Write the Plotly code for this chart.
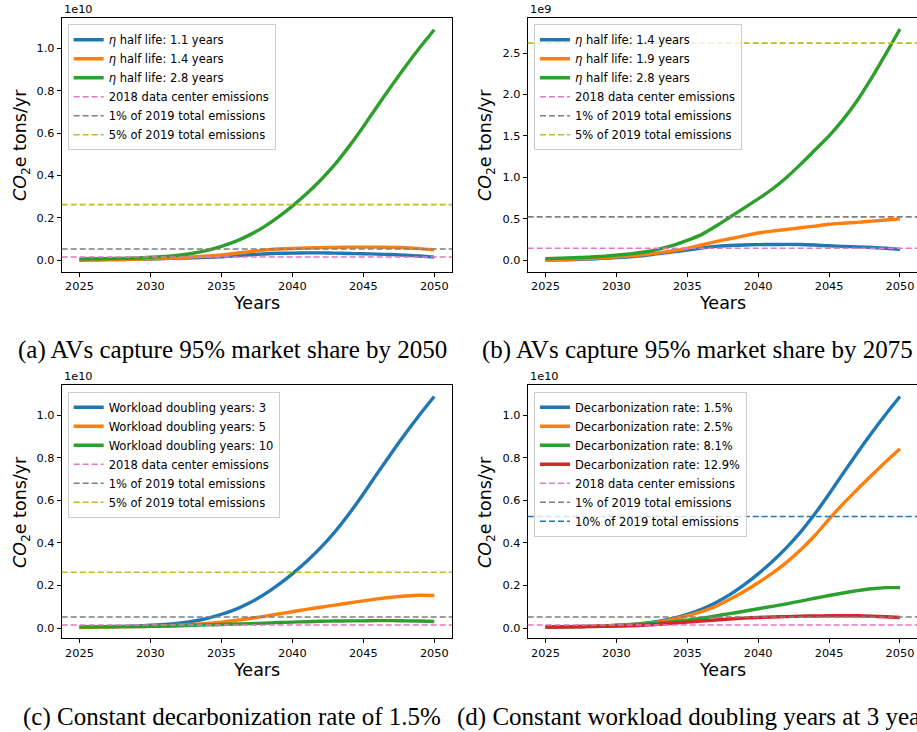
import plotly.graph_objects as go

# ---------------- data ----------------
years = list(range(2025, 2051))

# baseline scenario: 3-year workload doubling, 1.5% decarbonization, 95% AV share by 2050 (x1e10 tons)
baseline = [0.005, 0.006, 0.007, 0.008, 0.010, 0.013, 0.017, 0.023, 0.032, 0.046,
            0.065, 0.088, 0.119, 0.157, 0.203, 0.255, 0.313, 0.378, 0.452, 0.537,
            0.630, 0.728, 0.824, 0.917, 1.005, 1.088]

# (a) eta half life (x1e10)
a_half_11 = [0.000, 0.001, 0.002, 0.003, 0.004, 0.005, 0.007, 0.009, 0.011, 0.013,
             0.016, 0.020, 0.025, 0.029, 0.032, 0.033, 0.034, 0.034, 0.033, 0.031,
             0.030, 0.028, 0.026, 0.023, 0.019, 0.014]
a_half_14 = [0.000, 0.001, 0.002, 0.003, 0.004, 0.006, 0.008, 0.011, 0.015, 0.019,
             0.024, 0.032, 0.040, 0.047, 0.052, 0.055, 0.057, 0.059, 0.060, 0.061,
             0.061, 0.061, 0.060, 0.058, 0.054, 0.048]
a_half_28 = baseline

# (b) eta half life, 95% by 2075 (x1e9)
b_half_14 = [0.000, 0.005, 0.010, 0.016, 0.023, 0.032, 0.043, 0.056, 0.082, 0.102,
             0.124, 0.148, 0.168, 0.179, 0.185, 0.189, 0.191, 0.192, 0.191, 0.184,
             0.175, 0.168, 0.162, 0.155, 0.145, 0.132]
b_half_19 = [0.000, 0.007, 0.014, 0.022, 0.031, 0.041, 0.053, 0.068, 0.090, 0.115,
             0.145, 0.185, 0.225, 0.260, 0.295, 0.330, 0.352, 0.372, 0.393, 0.413,
             0.435, 0.447, 0.458, 0.472, 0.486, 0.500]
b_half_28 = [0.020, 0.025, 0.031, 0.038, 0.048, 0.062, 0.078, 0.100, 0.135, 0.180,
             0.240, 0.310, 0.410, 0.520, 0.630, 0.740, 0.860, 1.000, 1.160, 1.330,
             1.500, 1.700, 1.930, 2.200, 2.490, 2.790]

# (c) workload doubling years (x1e10)
c_double_3 = baseline
c_double_5 = [0.003, 0.004, 0.005, 0.006, 0.007, 0.008, 0.010, 0.013, 0.017, 0.022,
              0.028, 0.036, 0.045, 0.055, 0.066, 0.077, 0.088, 0.098, 0.108, 0.118,
              0.128, 0.137, 0.145, 0.151, 0.154, 0.153]
c_double_10 = [0.005, 0.005, 0.006, 0.007, 0.007, 0.008, 0.009, 0.011, 0.013, 0.015,
               0.017, 0.019, 0.021, 0.023, 0.026, 0.028, 0.030, 0.032, 0.033, 0.034,
               0.034, 0.035, 0.035, 0.034, 0.033, 0.031]

# (d) decarbonization rate (x1e10)
d_rate_15 = baseline
d_rate_25 = [0.005, 0.006, 0.007, 0.008, 0.010, 0.012, 0.016, 0.021, 0.029, 0.041,
             0.058, 0.077, 0.102, 0.135, 0.172, 0.213, 0.258, 0.309, 0.368, 0.435,
             0.512, 0.585, 0.652, 0.718, 0.782, 0.843]
d_rate_81 = [0.005, 0.006, 0.007, 0.008, 0.010, 0.012, 0.015, 0.019, 0.024, 0.030,
             0.037, 0.046, 0.057, 0.068, 0.079, 0.091, 0.102, 0.114, 0.127, 0.140,
             0.153, 0.165, 0.176, 0.185, 0.190, 0.190]
d_rate_129 = [0.005, 0.005, 0.006, 0.007, 0.008, 0.009, 0.011, 0.014, 0.018, 0.023,
              0.028, 0.033, 0.038, 0.043, 0.047, 0.050, 0.052, 0.054, 0.056, 0.057,
              0.058, 0.058, 0.058, 0.056, 0.053, 0.050]

# reference levels (tons CO2e / yr)
dc_2018 = 1.46e8
pct1_2019 = 5.24e8
pct5_2019 = 2.62e9
pct10_2019 = 5.24e9

x_ticks = [2025, 2030, 2035, 2040, 2045, 2050]
y_ticks_e10 = [0.0, 0.2, 0.4, 0.6, 0.8, 1.0]
y_ticks_e9 = [0.0, 0.5, 1.0, 1.5, 2.0, 2.5]

captions = ["(a) AVs capture 95% market share by 2050",
            "(b) AVs capture 95% market share by 2075",
            "(c) Constant decarbonization rate of 1.5%",
            "(d) Constant workload doubling years at 3 years"]

# ---------------- style ----------------
C_BLUE, C_ORANGE, C_GREEN, C_RED = "#1f77b4", "#ff7f0e", "#2ca02c", "#d62728"
C_PINK, C_GRAY, C_OLIVE = "#e377c2", "#7f7f7f", "#bcbd22"
FONT = "DejaVu Sans"
LW = 3.4

panels = [
    dict(scale=1e10, exp="1e10", ticks=y_ticks_e10,
         series=[("<i>η</i> half life: 1.1 years", a_half_11, C_BLUE),
                 ("<i>η</i> half life: 1.4 years", a_half_14, C_ORANGE),
                 ("<i>η</i> half life: 2.8 years", a_half_28, C_GREEN)],
         refs=[("2018 data center emissions", dc_2018, C_PINK),
               ("1% of 2019 total emissions", pct1_2019, C_GRAY),
               ("5% of 2019 total emissions", pct5_2019, C_OLIVE)],
         xdom=[0.0673, 0.4929], ydom=[0.6288, 0.975],
         xr=[2023.75, 2051.25], yr=[-0.055e10, 1.142e10],
         leg=(0.0738, 0.9668)),
    dict(scale=1e9, exp="1e9", ticks=y_ticks_e9,
         series=[("<i>η</i> half life: 1.4 years", b_half_14, C_BLUE),
                 ("<i>η</i> half life: 1.9 years", b_half_19, C_ORANGE),
                 ("<i>η</i> half life: 2.8 years", b_half_28, C_GREEN)],
         refs=[("2018 data center emissions", dc_2018, C_PINK),
               ("1% of 2019 total emissions", pct1_2019, C_GRAY),
               ("5% of 2019 total emissions", pct5_2019, C_OLIVE)],
         xdom=[0.5755, 1.0], ydom=[0.6288, 0.975],
         xr=[2023.75, 2051.2], yr=[-0.1375e9, 2.919e9],
         leg=(0.5823, 0.9668)),
    dict(scale=1e10, exp="1e10", ticks=y_ticks_e10,
         series=[("Workload doubling years: 3", c_double_3, C_BLUE),
                 ("Workload doubling years: 5", c_double_5, C_ORANGE),
                 ("Workload doubling years: 10", c_double_10, C_GREEN)],
         refs=[("2018 data center emissions", dc_2018, C_PINK),
               ("1% of 2019 total emissions", pct1_2019, C_GRAY),
               ("5% of 2019 total emissions", pct5_2019, C_OLIVE)],
         xdom=[0.0673, 0.4929], ydom=[0.128, 0.474],
         xr=[2023.75, 2051.25], yr=[-0.048e10, 1.142e10],
         leg=(0.0738, 0.4649)),
    dict(scale=1e10, exp="1e10", ticks=y_ticks_e10,
         series=[("Decarbonization rate: 1.5%", d_rate_15, C_BLUE),
                 ("Decarbonization rate: 2.5%", d_rate_25, C_ORANGE),
                 ("Decarbonization rate: 8.1%", d_rate_81, C_GREEN),
                 ("Decarbonization rate: 12.9%", d_rate_129, C_RED)],
         refs=[("2018 data center emissions", dc_2018, C_PINK),
               ("1% of 2019 total emissions", pct1_2019, C_GRAY),
               ("10% of 2019 total emissions", pct10_2019, C_BLUE)],
         xdom=[0.5755, 1.0], ydom=[0.128, 0.474],
         xr=[2023.75, 2051.2], yr=[-0.048e10, 1.142e10],
         leg=(0.5823, 0.4649)),
]

caption_pos = [(0.2535, 0.5219), (0.7606, 0.5219), (0.2535, 0.0205), (0.7606, 0.0205)]
ytitle_pos = [(0.0229, 0.8019), (0.530, 0.8019), (0.0229, 0.3005), (0.530, 0.3005)]
xtitle_pos = [(0.280, 0.586), (0.788, 0.586), (0.280, 0.0847), (0.788, 0.0847)]

fig = go.Figure()
shapes = []
annotations = []
layout = dict()

for i, p in enumerate(panels):
    n = "" if i == 0 else str(i + 1)
    xa, ya = "x" + n, "y" + n
    leg = "legend" + n
    for name, vals, col in p["series"]:
        fig.add_trace(go.Scatter(
            x=years, y=[v * p["scale"] for v in vals], mode="lines", name=name,
            line=dict(color=col, width=LW, shape="spline", smoothing=0.6),
            xaxis=xa, yaxis=ya, legend=leg, hoverinfo="skip"))
    for name, val, col in p["refs"]:
        shapes.append(dict(type="line", xref=xa + " domain", x0=0, x1=1,
                           yref=ya, y0=val, y1=val, layer="above",
                           line=dict(color=col, width=1.6, dash="6px,3px"),
                           showlegend=True, name=name, legend=leg))
    axis_common = dict(showline=True, linecolor="black", linewidth=1, mirror=True,
                       ticks="outside", ticklen=4, tickwidth=1, tickcolor="black",
                       showgrid=False, zeroline=False,
                       tickfont=dict(family=FONT, size=11.3, color="black"))
    layout["xaxis" + n] = dict(domain=p["xdom"], range=p["xr"], anchor=ya,
                               tickvals=x_ticks, ticktext=[str(t) for t in x_ticks],
                               **axis_common)
    layout["yaxis" + n] = dict(domain=p["ydom"], range=p["yr"], anchor=xa,
                               tickvals=[t * p["scale"] for t in p["ticks"]],
                               ticktext=[f"{t:.1f}" for t in p["ticks"]],
                               **axis_common)
    layout[leg] = dict(x=p["leg"][0], y=p["leg"][1], xanchor="left", yanchor="top",
                       xref="paper", yref="paper",
                       bgcolor="rgba(255,255,255,0.8)", bordercolor="#cccccc",
                       borderwidth=1, tracegroupgap=0,
                       font=dict(family=FONT, size=11.5, color="black"))
    # offset text
    annotations.append(dict(text=p["exp"], xref=xa + " domain", yref=ya + " domain",
                            x=0, y=1, xanchor="left", yanchor="bottom", showarrow=False,
                            font=dict(family=FONT, size=11.3, color="black")))
    # axis titles
    annotations.append(dict(text="<i>CO</i><sub>2</sub>e tons/yr", xref="paper", yref="paper",
                            x=ytitle_pos[i][0], y=ytitle_pos[i][1], textangle=-90,
                            showarrow=False, xanchor="center", yanchor="middle",
                            font=dict(family=FONT, size=17.5, color="black")))
    annotations.append(dict(text="Years", xref="paper", yref="paper",
                            x=xtitle_pos[i][0], y=xtitle_pos[i][1],
                            showarrow=False, xanchor="center", yanchor="middle",
                            font=dict(family=FONT, size=17.5, color="black")))
    annotations.append(dict(text=captions[i], xref="paper", yref="paper",
                            x=caption_pos[i][0], y=caption_pos[i][1],
                            showarrow=False, xanchor="center", yanchor="middle",
                            font=dict(family="Liberation Serif", size=25, color="black")))

fig.update_layout(width=917, height=732, margin=dict(l=0, r=0, t=0, b=0),
                  paper_bgcolor="white", plot_bgcolor="white",
                  showlegend=True, shapes=shapes, annotations=annotations, **layout)

fig.write_html("out.html", config={"displayModeBar": False},
               post_script="document.body.style.margin='0';document.body.style.overflow='hidden';")
